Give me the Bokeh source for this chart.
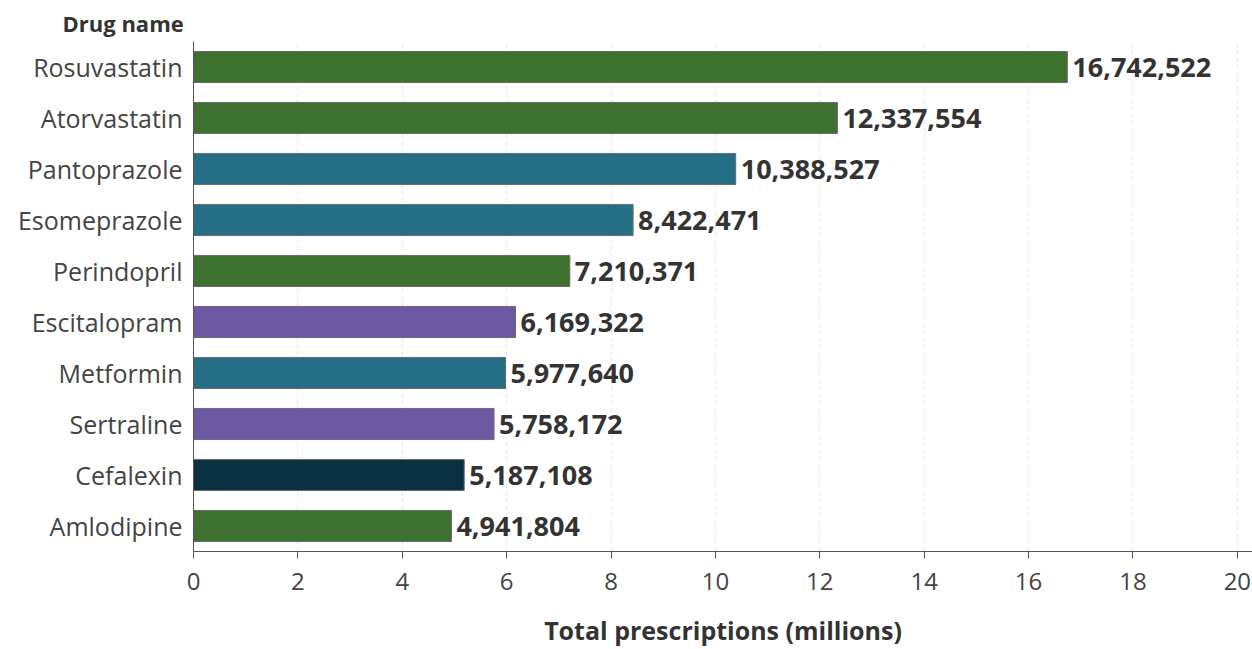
from bokeh.plotting import figure
from bokeh.models import ColumnDataSource, Title, FixedTicker
from bokeh.core.properties import value
from bokeh.embed import file_html
from bokeh.resources import INLINE

drugs = ["Rosuvastatin", "Atorvastatin", "Pantoprazole", "Esomeprazole", "Perindopril",
         "Escitalopram", "Metformin", "Sertraline", "Cefalexin", "Amlodipine"]
prescriptions = [16742522, 12337554, 10388527, 8422471, 7210371,
                 6169322, 5977640, 5758172, 5187108, 4941804]
groups = ["cardio", "cardio", "gastro", "gastro", "cardio",
          "neuro", "gastro", "neuro", "infect", "cardio"]
group_colors = {"cardio": "#3e7130", "gastro": "#246f85", "neuro": "#6d58a3", "infect": "#0b3042"}
x_ticks = [0, 2, 4, 6, 8, 10, 12, 14, 16, 18, 20]

FONT = "Open Sans"

src = ColumnDataSource(dict(
    drug=drugs,
    val=[v / 1e6 for v in prescriptions],
    label=[f"{v:,}" for v in prescriptions],
    color=[group_colors[g] for g in groups],
))

p = figure(width=1252, height=649, y_range=list(reversed(drugs)), x_range=(0, 20.29),
           output_backend="svg", toolbar_location=None,
           min_border_left=193, min_border_right=0, min_border_top=41, min_border_bottom=97)
p.y_range.range_padding = 0
p.outline_line_color = None
p.background_fill_color = "white"

p.hbar(y="drug", right="val", left=0, height=0.61, source=src, fill_color="color",
       line_color="#6b6b6b", line_width=1)
p.text(x="val", y="drug", text="label", source=src, x_offset=5, text_baseline="middle",
       text_align="left", text_font=value(FONT), text_font_style="bold",
       text_font_size="27px", text_color="#333333")

p.ygrid.grid_line_color = None
p.xgrid.grid_line_color = "#e6e6e6"
p.xgrid.grid_line_dash = "4 3"
p.xgrid.ticker = FixedTicker(ticks=x_ticks)

xa = p.xaxis[0]
xa.ticker = FixedTicker(ticks=x_ticks)
xa.axis_label = "Total prescriptions (millions)"
xa.axis_label_text_font = FONT
xa.axis_label_text_font_style = "bold"
xa.axis_label_text_font_size = "25px"
xa.axis_label_text_color = "#333333"
xa.axis_label_standoff = 20
xa.major_label_text_font = FONT
xa.major_label_text_font_size = "24px"
xa.major_label_text_color = "#444444"
xa.major_label_standoff = 14
xa.axis_line_color = "#555555"
xa.major_tick_line_color = "#555555"
xa.major_tick_out = 7
xa.major_tick_in = 0
xa.minor_tick_line_color = None

ya = p.yaxis[0]
ya.major_label_text_font = FONT
ya.major_label_text_font_size = "25px"
ya.major_label_text_color = "#444444"
ya.major_label_standoff = 5
ya.axis_line_color = "#555555"
ya.major_tick_line_color = None
ya.minor_tick_line_color = None

header = Title(text="Drug name", align="left", offset=-131, text_font=FONT,
               text_font_style="bold", text_font_size="22px", text_color="#333333",
               standoff=8)
p.add_layout(header, "above")

open("out.html", "w").write(file_html(p, INLINE))
